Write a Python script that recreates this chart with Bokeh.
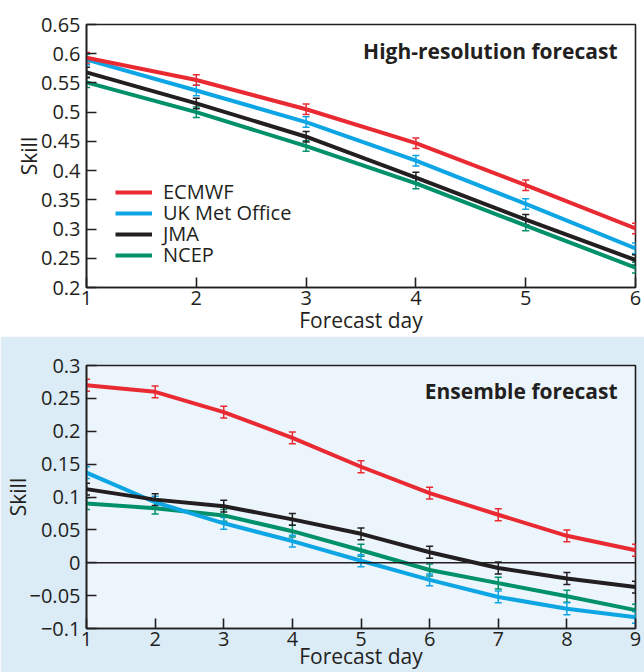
from bokeh.plotting import figure
from bokeh.layouts import column
from bokeh.models import (ColumnDataSource, Whisker, TeeHead, Span, Label,
                          Legend, LegendItem, FixedTicker)
from bokeh.embed import file_html
from bokeh.resources import INLINE

# ---------------- data ----------------
series_names = ["ECMWF", "UK Met Office", "JMA", "NCEP"]
series_colors = ["#ea2a33", "#0ea5e4", "#231f20", "#00906a"]

hr_days = [1, 2, 3, 4, 5, 6]
hr_ecmwf = [0.593, 0.555, 0.505, 0.447, 0.375, 0.301]
hr_ukmo = [0.590, 0.537, 0.483, 0.417, 0.343, 0.267]
hr_jma = [0.568, 0.515, 0.458, 0.388, 0.316, 0.247]
hr_ncep = [0.551, 0.500, 0.442, 0.378, 0.306, 0.234]
hr_err = 0.009

ens_days = [1, 2, 3, 4, 5, 6, 7, 8, 9]
ens_ecmwf = [0.270, 0.260, 0.229, 0.190, 0.146, 0.106, 0.073, 0.041, 0.019]
ens_ukmo = [0.137, 0.092, 0.060, 0.033, 0.003, -0.026, -0.052, -0.070, -0.083]
ens_jma = [0.112, 0.096, 0.086, 0.066, 0.044, 0.016, -0.008, -0.024, -0.037]
ens_ncep = [0.090, 0.083, 0.072, 0.048, 0.019, -0.011, -0.031, -0.051, -0.072]
ens_err = 0.009

hr_yticks = [0.2, 0.25, 0.3, 0.35, 0.4, 0.45, 0.5, 0.55, 0.6, 0.65]
hr_ylabels = ["0.2", "0.25", "0.3", "0.35", "0.4", "0.45", "0.5", "0.55", "0.6", "0.65"]
ens_yticks = [-0.1, -0.05, 0, 0.05, 0.1, 0.15, 0.2, 0.25, 0.3]
ens_ylabels = ["\u22120.1", "\u22120.05", "0", "0.05", "0.1", "0.15", "0.2", "0.25", "0.3"]

FONT = "Open Sans"
TICK_FS = "20px"
LAB_FS = "21px"
INK = "#231f20"


def style(p, xticks, yticks, ylabels, xlab_standoff):
    p.xgrid.visible = False
    p.ygrid.visible = False
    p.outline_line_color = INK
    p.outline_line_width = 1.6
    p.outline_line_alpha = 1
    for ax in (p.xaxis[0], p.yaxis[0]):
        ax.axis_line_color = INK
        ax.axis_line_width = 1.6
        ax.major_tick_in = 10
        ax.major_tick_out = 0
        ax.major_tick_line_color = INK
        ax.major_tick_line_width = 1.6
        ax.minor_tick_line_color = None
        ax.major_label_text_font = FONT
        ax.major_label_text_font_size = TICK_FS
        ax.major_label_text_color = INK
        ax.axis_label_text_font = FONT
        ax.axis_label_text_font_size = LAB_FS
        ax.axis_label_text_font_style = "normal"
        ax.axis_label_text_color = INK
    p.xaxis[0].ticker = FixedTicker(ticks=xticks)
    p.yaxis[0].ticker = FixedTicker(ticks=yticks)
    p.yaxis[0].major_label_overrides = {t: l for t, l in zip(yticks, ylabels)}
    p.xaxis[0].major_label_standoff = 3
    p.yaxis[0].major_label_standoff = 6
    p.xaxis[0].axis_label_standoff = xlab_standoff
    p.yaxis[0].axis_label_standoff = -5


def add_series(p, days, ys_list, err):
    order = [3, 1, 2, 0]  # NCEP, UK, JMA, ECMWF (ECMWF on top)
    rmap = {}
    for i in order:
        ys = ys_list[i]
        col = series_colors[i]
        src = ColumnDataSource(dict(x=days, y=ys,
                                    lo=[v - err for v in ys],
                                    hi=[v + err for v in ys]))
        r = p.line("x", "y", source=src, line_color=col, line_width=4)
        w = Whisker(base="x", upper="hi", lower="lo", source=src,
                    line_color=col, line_width=1.5,
                    upper_head=TeeHead(size=7, line_color=col, line_width=1.5),
                    lower_head=TeeHead(size=7, line_color=col, line_width=1.5))
        p.add_layout(w)
        rmap[i] = r
    return [rmap[i] for i in range(4)]


# ---------------- top panel ----------------
p1 = figure(width=644, height=336, output_backend="svg", toolbar_location=None,
            x_range=(1, 6), y_range=(0.2, 0.65),
            min_border_left=86, min_border_right=9, min_border_top=24,
            min_border_bottom=49,
            background_fill_color="white", border_fill_color="white")
style(p1, hr_days, hr_yticks, hr_ylabels, -2)
p1.xaxis[0].axis_label = "Forecast day"
p1.yaxis[0].axis_label = "Skill"
r1 = add_series(p1, hr_days, [hr_ecmwf, hr_ukmo, hr_jma, hr_ncep], hr_err)
# one legend per row so that rows can be spaced tightly like the original
row_bottoms = [82, 61, 40, 19]
for name, r, yb in zip(series_names, r1, row_bottoms):
    lg = Legend(items=[LegendItem(label=name, renderers=[r])],
                location=(29, yb), background_fill_alpha=0, border_line_alpha=0,
                label_text_font=FONT, label_text_font_size="20px",
                label_text_color=INK,
                glyph_width=37, glyph_height=20, label_height=20,
                spacing=0, padding=0, margin=0, label_standoff=11)
    p1.add_layout(lg, "center")
p1.add_layout(Label(x=531, y=237, x_units="screen", y_units="screen",
                    text="High-resolution forecast", text_align="right",
                    text_baseline="middle", text_font=FONT, text_font_style="bold",
                    text_font_size="21px", text_color=INK))

# ---------------- bottom panel ----------------
p2 = figure(width=644, height=336, output_backend="svg", toolbar_location=None,
            x_range=(1, 9), y_range=(-0.1, 0.3),
            min_border_left=86, min_border_right=9, min_border_top=29,
            min_border_bottom=44,
            background_fill_color="#ecf5fb", border_fill_color="#dcecf7")
style(p2, ens_days, ens_yticks, ens_ylabels, -7)
p2.xaxis[0].axis_label = "Forecast day"
p2.yaxis[0].axis_label = "Skill"
p2.add_layout(Span(location=0, dimension="width", line_color=INK, line_width=1.6))
add_series(p2, ens_days, [ens_ecmwf, ens_ukmo, ens_jma, ens_ncep], ens_err)
p2.add_layout(Label(x=531, y=238, x_units="screen", y_units="screen",
                    text="Ensemble forecast", text_align="right",
                    text_baseline="middle", text_font=FONT, text_font_style="bold",
                    text_font_size="21px", text_color=INK))

layout = column(p1, p2, spacing=0)
open("out.html", "w").write(file_html(layout, INLINE))
